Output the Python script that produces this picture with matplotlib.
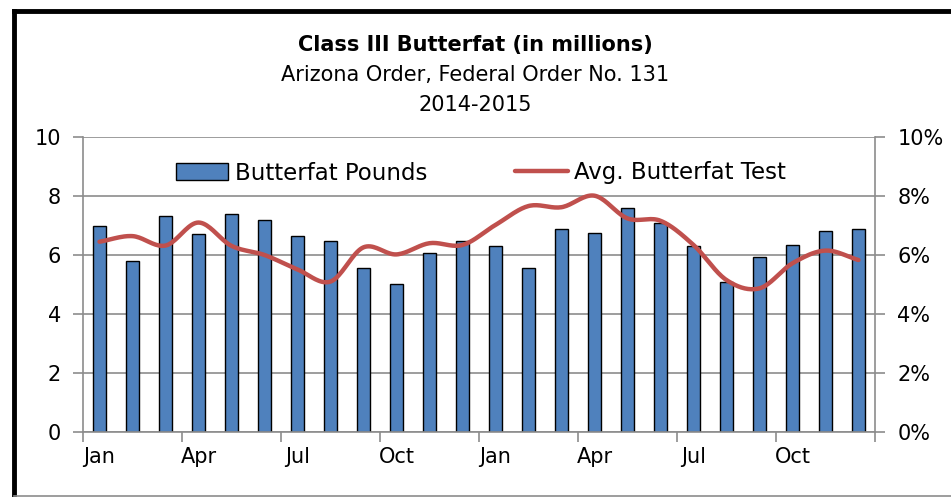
import matplotlib.pyplot as plt
import numpy as np
from matplotlib.lines import Line2D

plt.rcParams.update({'font.family': 'DejaVu Sans', 'font.size': 15})

# data (Jan 2014 .. Dec 2015)
months = ['Jan', 'Feb', 'Mar', 'Apr', 'May', 'Jun', 'Jul', 'Aug', 'Sep', 'Oct', 'Nov', 'Dec'] * 2
pounds = [7.0, 5.79, 7.33, 6.70, 7.39, 7.20, 6.63, 6.49, 5.55, 5.03, 6.08, 6.49,
          6.31, 5.56, 6.87, 6.76, 7.58, 7.07, 6.31, 5.10, 5.94, 6.34, 6.83, 6.88]
test_pct = [6.45, 6.64, 6.32, 7.10, 6.31, 6.00, 5.51, 5.10, 6.26, 6.02, 6.40, 6.34,
            7.02, 7.66, 7.62, 8.01, 7.24, 7.16, 6.34, 5.15, 4.87, 5.72, 6.15, 5.83]

bar_color = '#4F81BD'
line_color = '#C0504D'
grid_color = '#8C8C8C'


def smooth(x, y, n=20):
    # catmull-rom style smoothing, like Excel's "smoothed line"
    x = np.asarray(x, float)
    y = np.asarray(y, float)
    px = np.concatenate([[2 * x[0] - x[1]], x, [2 * x[-1] - x[-2]]])
    py = np.concatenate([[2 * y[0] - y[1]], y, [2 * y[-1] - y[-2]]])
    xs, ys = [], []
    t = np.linspace(0, 1, n, endpoint=False)
    for i in range(1, len(px) - 2):
        for p, out in ((px, xs), (py, ys)):
            p0, p1, p2, p3 = p[i - 1], p[i], p[i + 1], p[i + 2]
            out.extend(0.5 * (2 * p1 + (-p0 + p2) * t + (2 * p0 - 5 * p1 + 4 * p2 - p3) * t ** 2
                              + (-p0 + 3 * p1 - 3 * p2 + p3) * t ** 3))
    xs.append(x[-1])
    ys.append(y[-1])
    return np.array(xs), np.array(ys)


fig = plt.figure(figsize=(9.51, 4.97), dpi=100)
ax = fig.add_axes([83 / 951, 65 / 497, 792 / 951, 295 / 497])
x = np.arange(len(pounds))

ax.set_axisbelow(True)
ax.yaxis.grid(True, color=grid_color, lw=1.2)
ax.bar(x, pounds, width=0.42, color=bar_color, edgecolor='black', lw=1, zorder=2)
ax.set_xlim(-0.5, len(pounds) - 0.5)
ax.set_ylim(0, 10)
ax.set_yticks(range(0, 11, 2))

# month labels every 3 months, tick marks on category boundaries
ax.set_xticks(np.arange(-0.5, len(pounds), 3))
ax.set_xticklabels([])
ax.set_xticks(x[::3], minor=True)
ax.set_xticklabels(months[::3], minor=True)
ax.tick_params(axis='x', which='minor', length=0, pad=11)
ax.tick_params(axis='x', which='major', length=7, color=grid_color, width=1.2)
ax.tick_params(axis='y', length=7, color=grid_color, width=1.2, pad=9)

for s in ['top', 'right']:
    ax.spines[s].set_visible(False)
for s in ['left', 'bottom']:
    ax.spines[s].set_color(grid_color)
    ax.spines[s].set_linewidth(1.2)

ax2 = ax.twinx()
sx, sy = smooth(x, test_pct)
ax2.plot(sx, sy, color=line_color, lw=3.2, solid_capstyle='round')
ax2.set_ylim(0, 10)
ax2.set_yticks(range(0, 11, 2))
ax2.set_yticklabels([f'{v}%' for v in range(0, 11, 2)])
ax2.tick_params(axis='y', length=7, color=grid_color, width=1.2, pad=9)
for s in ['top', 'left', 'bottom']:
    ax2.spines[s].set_visible(False)
ax2.spines['right'].set_color(grid_color)
ax2.spines['right'].set_linewidth(1.2)

handles = [plt.Rectangle((0, 0), 1, 1, facecolor=bar_color, edgecolor='black', lw=1),
           Line2D([], [], color=line_color, lw=3.2, solid_capstyle='round')]
fig.legend(handles, ['Butterfat Pounds', 'Avg. Butterfat Test'], ncol=2, frameon=False,
           loc='center', bbox_to_anchor=(481 / 951, 1 - 173 / 497), fontsize=16.5,
           handlelength=2.3, handleheight=0.7, handletextpad=0.3, columnspacing=3.8)

fig.text(0.5, 1 - 45 / 497, 'Class III Butterfat (in millions)', ha='center', va='center',
         fontsize=15, fontweight='bold')
fig.text(0.5, 1 - 75 / 497, 'Arizona Order, Federal Order No. 131', ha='center', va='center', fontsize=15)
fig.text(0.5, 1 - 105 / 497, '2014-2015', ha='center', va='center', fontsize=15)

# chart frame (black on top and left, thin grey bottom)
fig.add_artist(Line2D([14 / 951, 14 / 951], [1 - 11 / 497, 1 / 497], color='black', lw=3.5,
                      solid_capstyle='projecting'))
fig.add_artist(Line2D([14 / 951, 1.0], [1 - 11 / 497, 1 - 11 / 497], color='black', lw=3.5,
                      solid_capstyle='projecting'))
fig.add_artist(Line2D([14 / 951, 1.0], [1 / 497, 1 / 497], color=grid_color, lw=1.2))

fig.savefig('out.png', dpi=100)
